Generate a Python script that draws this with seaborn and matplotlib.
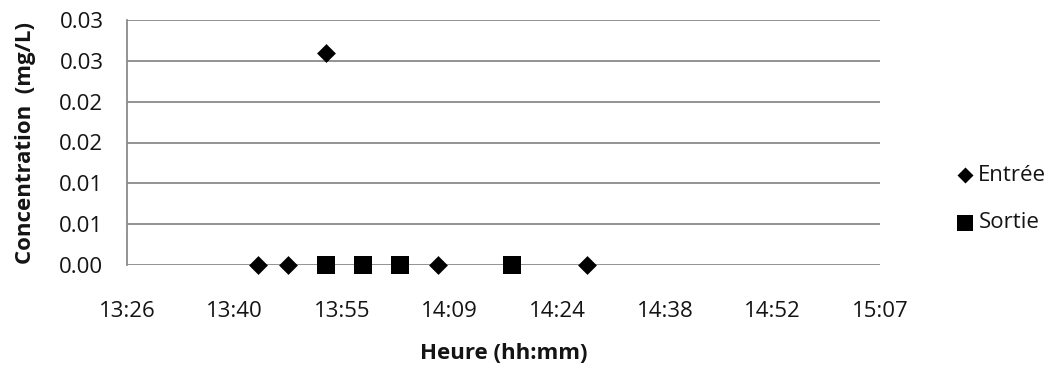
import matplotlib
matplotlib.use("Agg")
import matplotlib.pyplot as plt
import numpy as np
import pandas as pd
import seaborn as sns

# Sampling times (hh:mm) and measured concentrations (mg/L)
entree_times = ["13:44", "13:48", "13:53", "14:08", "14:28"]
entree_values = [0.0, 0.0, 0.026, 0.0, 0.0]
sortie_times = ["13:53", "13:58", "14:03", "14:18"]
sortie_values = [0.0, 0.0, 0.0, 0.0]

# Axis ticks: x in fractions of a day, y in mg/L (labels rounded to 2 decimals)
x_tick_days = [0.56, 0.57, 0.58, 0.59, 0.60, 0.61, 0.62, 0.63]
x_tick_labels = ["13:26", "13:40", "13:55", "14:09", "14:24", "14:38", "14:52", "15:07"]
y_ticks = [0.0, 0.005, 0.01, 0.015, 0.02, 0.025, 0.03]
y_tick_labels = ["0.00", "0.01", "0.01", "0.02", "0.02", "0.03", "0.03"]


def to_day_fraction(hhmm):
    h, m = hhmm.split(":")
    return (int(h) * 60 + int(m)) / 1440.0


entree = pd.DataFrame({"t": [to_day_fraction(t) for t in entree_times],
                       "c": entree_values})
sortie = pd.DataFrame({"t": [to_day_fraction(t) for t in sortie_times],
                       "c": sortie_values})

sns.set_theme(style="white")
plt.rcParams["font.family"] = ["Open Sans", "DejaVu Sans"]

fig = plt.figure(figsize=(10.52, 3.76), dpi=100)
ax = fig.add_axes([127 / 1052, 1 - 265 / 376, (880 - 127) / 1052, (265 - 20) / 376])

grid_color = "#8a8a8a"
text_color = "#141414"
for yv in y_ticks:
    ax.axhline(yv, color=grid_color, lw=1.3, zorder=1)

sns.scatterplot(data=entree, x="t", y="c", marker="D", s=92, color="black",
                edgecolor="black", linewidth=0, label="Entrée", ax=ax, zorder=3,
                clip_on=False)
sns.scatterplot(data=sortie, x="t", y="c", marker="s", s=185, color="black",
                edgecolor="black", linewidth=0, label="Sortie", ax=ax, zorder=3,
                clip_on=False)

ax.set_xlim(x_tick_days[0], x_tick_days[-1])
ax.set_ylim(y_ticks[0], y_ticks[-1])
ax.set_xticks(x_tick_days)
ax.set_xticklabels(x_tick_labels)
ax.set_yticks(y_ticks)
ax.set_yticklabels(y_tick_labels)
ax.tick_params(axis="both", length=0, labelsize=16, colors=text_color)
ax.tick_params(axis="x", pad=26)
ax.tick_params(axis="y", pad=17)

for side in ["top", "right", "bottom"]:
    ax.spines[side].set_visible(False)
ax.spines["left"].set_color(grid_color)
ax.spines["left"].set_linewidth(1.3)

ax.set_xlabel("Heure (hh:mm)", fontsize=16, fontweight="bold", labelpad=15,
              color=text_color)
ax.set_ylabel("Concentration  (mg/L)", fontsize=16, fontweight="bold", labelpad=17,
              color=text_color)

leg = ax.legend(loc="center left", bbox_to_anchor=(945 / 1052, 1 - 199 / 376),
                bbox_transform=fig.transFigure, frameon=False, fontsize=16,
                labelspacing=1.2, handletextpad=0.1, handlelength=1.0,
                borderaxespad=0, markerscale=0.85)
for txt in leg.get_texts():
    txt.set_color(text_color)

fig.savefig("out.png", dpi=100, facecolor="white")
